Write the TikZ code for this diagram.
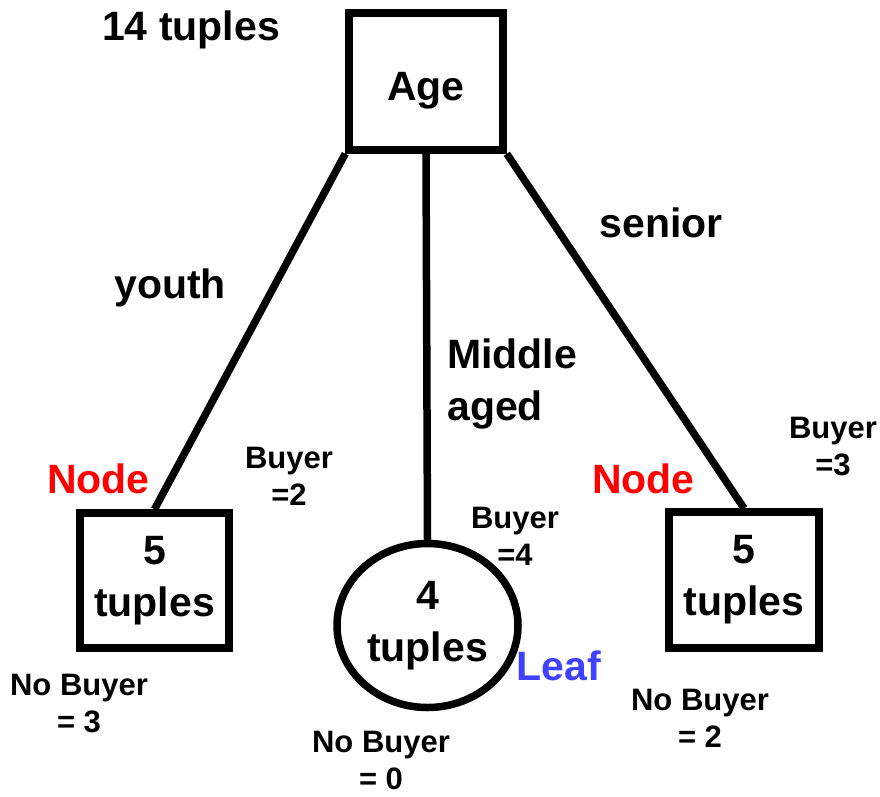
\documentclass[tikz,border=0pt]{standalone}
\usepackage{fontspec}
\setmainfont{Liberation Sans}
\usetikzlibrary{shapes.geometric}
\definecolor{nodered}{RGB}{255,0,0}
\definecolor{leafblue}{RGB}{64,64,255}
\tikzset{
  big/.style={font=\bfseries\fontsize{41}{52}\selectfont, inner sep=0pt, align=center},
  small/.style={font=\bfseries\fontsize{31}{37}\selectfont, inner sep=0pt, align=center},
  boxn/.style={draw, rectangle, line width=7.5pt, inner sep=0pt},
  conn/.style={line width=7.5pt},
}
\begin{document}
\begin{tikzpicture}[x=1pt, y=-1pt]
\useasboundingbox (0,0) rectangle (880,796);
% main boxes
\node[boxn, big, minimum width=154pt, minimum height=137pt, text height=38pt, text depth=0pt] (age) at (426,81.5) {Age};
\node[boxn, big, minimum width=149pt, minimum height=135pt] (left) at (154.5,580.5) {5\\tuples};
\node[boxn, big, minimum width=150pt, minimum height=136pt] (right) at (744,580) {5\\tuples};
\node[draw, ellipse, line width=7.5pt, inner sep=0pt, big, minimum width=181pt, minimum height=164pt] (leaf) at (427.5,625.5) {4\\tuples};
% connectors
\draw[conn] (age.south west) -- (left.north);
\draw[conn] (age.south) -- (leaf.north);
\draw[conn] (age.south east) -- (right.north);
% labels
\node[big, anchor=base] (t14) at (191,40) {14 tuples};
\node[big, anchor=base] (youth) at (170,298) {youth};
\node[big, anchor=base] (senior) at (661,237) {senior};
\node[big, anchor=base west, align=left] (mid) at (447,420) {Middle\\aged};
\node[big, anchor=base, text=nodered] (nodeL) at (98.5,493) {Node};
\node[big, anchor=base, text=nodered] (nodeR) at (643.5,493) {Node};
\node[big, anchor=base, text=leafblue] (leaflbl) at (559,680) {Leaf};
\node[small, anchor=base] (b2) at (289,505) {Buyer\\=2};
\node[small, anchor=base] (b4) at (515,565) {Buyer\\=4};
\node[small, anchor=base] (b3) at (833,475) {Buyer\\=3};
\node[small, anchor=base] (nb3) at (79,732) {No Buyer\\= 3};
\node[small, anchor=base] (nb0) at (381,789) {No Buyer\\= 0};
\node[small, anchor=base] (nb2) at (700,747) {No Buyer\\= 2};
\end{tikzpicture}
\end{document}
